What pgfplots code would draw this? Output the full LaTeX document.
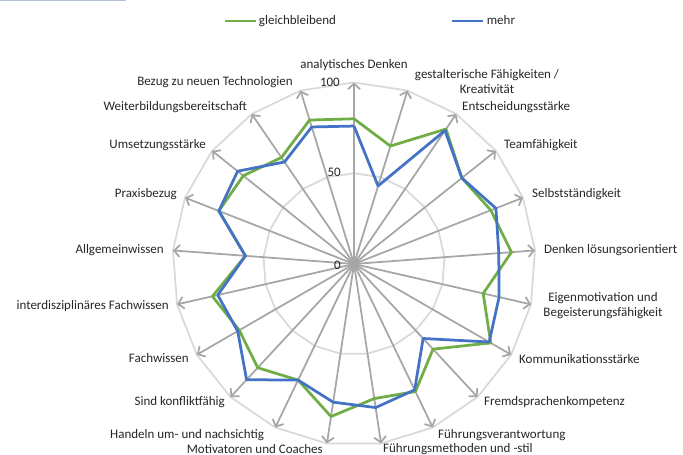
\documentclass[border=0pt]{standalone}
\usepackage{pgfplots}
\pgfplotsset{compat=1.18}
\usepackage{pgfplotstable}
\usepgfplotslibrary{polar}
\usetikzlibrary{arrows.meta}
\usepackage{fontspec}
\setmainfont{Carlito}
\definecolor{cgreen}{RGB}{112,173,71}
\definecolor{cblue}{RGB}{68,114,196}
\definecolor{cspoke}{RGB}{166,166,166}
\definecolor{cgrid}{RGB}{217,217,217}
\definecolor{ctop}{RGB}{180,192,212}
\definecolor{ctext}{RGB}{38,38,38}
\pgfplotstableread{
angle gleich mehr
90 80 76
72.857 68 45
55.714 90 89
38.571 76 76
21.429 81 84
4.286 87 80
-12.857 73 82
-30 87 86
-47.143 64 56
-64.286 78 77
-81.429 75 80
-98.571 85 77
-115.714 71 71
-132.857 78 87
-150 73 74
-167.143 80 77
-184.286 60 60
-201.429 80 80
-218.571 78 82
-235.714 71 68
-252.857 83 79
-270 80 76
}\radardata
\begin{document}
\fontsize{13}{15}\selectfont
\color{ctext}
\begin{tikzpicture}
\begin{axis}[
  hide axis,
  x=1.815pt, y=1.815pt,
  xmin=-195.04, xmax=181.27, ymin=-105.23, ymax=145.45,
  clip=false,
  legend columns=2,
  legend image code/.code={\draw[#1] (0pt,0pt) -- (31pt,0pt);},
  legend style={at={(rel axis cs:0.3265,0.9538)}, anchor=west, draw=none, fill=none,
    inner sep=0pt, nodes={inner sep=2pt, font=\fontsize{13}{15}\selectfont},
    /tikz/every even column/.append style={column sep=113pt}},
]
% grid polygons
\addplot[cgrid, line width=1.75pt, data cs=polar, forget plot] coordinates {
(90,100)(72.857,100)(55.714,100)(38.571,100)(21.429,100)(4.286,100)(-12.857,100)(-30,100)(-47.143,100)(-64.286,100)(-81.429,100)(-98.571,100)(-115.714,100)(-132.857,100)(-150,100)(-167.143,100)(-184.286,100)(-201.429,100)(-218.571,100)(-235.714,100)(-252.857,100)(-270,100)};
\addplot[cgrid, line width=1.75pt, data cs=polar, forget plot] coordinates {
(90,50)(72.857,50)(55.714,50)(38.571,50)(21.429,50)(4.286,50)(-12.857,50)(-30,50)(-47.143,50)(-64.286,50)(-81.429,50)(-98.571,50)(-115.714,50)(-132.857,50)(-150,50)(-167.143,50)(-184.286,50)(-201.429,50)(-218.571,50)(-235.714,50)(-252.857,50)(-270,50)};
% spokes
\pgfplotsinvokeforeach{90,72.857,55.714,38.571,21.429,4.286,-12.857,-30,-47.143,-64.286,-81.429,-98.571,-115.714,-132.857,-150,-167.143,-184.286,-201.429,-218.571,-235.714,-252.857}{
  \addplot[cspoke, line width=1.75pt, data cs=polar, forget plot, -{Straight Barb[length=5.5pt,width=12pt,line width=1.75pt]}] coordinates {(#1,0)(#1,100)};
}
\addplot[cgreen, line width=2.75pt, line join=round, data cs=polar] table[x=angle, y=gleich] {\radardata};
\addlegendentry{gleichbleibend}
\addplot[cblue, line width=2.75pt, line join=round, data cs=polar] table[x=angle, y=mehr] {\radardata};
\addlegendentry{mehr}
\coordinate (O) at (axis cs:0,0);
\coordinate (BL) at (rel axis cs:0,0);
\coordinate (TR) at (rel axis cs:1,1);
\coordinate (TL) at (rel axis cs:0,1);
\end{axis}
% value labels
\node[anchor=east, inner sep=0pt] at ([shift={(-14pt,182pt)}]O) {100};
\node[anchor=east, inner sep=0pt] at ([shift={(-13pt,92pt)}]O) {50};
\node[anchor=east, inner sep=0pt] at ([shift={(-13pt,-1pt)}]O) {0};
% category labels
\node[anchor=center, inner sep=0pt] at ([shift={(0pt,199pt)}]O) {analytisches Denken};
\node[anchor=center, inner sep=0pt, align=center] at ([shift={(133pt,182.5pt)}]O) {gestalterische Fähigkeiten /\\Kreativität};
\node[anchor=west, inner sep=0pt] at ([shift={(108pt,157pt)}]O) {Entscheidungsstärke};
\node[anchor=west, inner sep=0pt] at ([shift={(150pt,119pt)}]O) {Teamfähigkeit};
\node[anchor=west, inner sep=0pt] at ([shift={(178pt,70pt)}]O) {Selbstständigkeit};
\node[anchor=west, inner sep=0pt] at ([shift={(190pt,14pt)}]O) {Denken lösungsorientiert};
\node[anchor=center, inner sep=0pt, align=center] at ([shift={(249pt,-42pt)}]O) {Eigenmotivation und\\Begeisterungsfähigkeit};
\node[anchor=west, inner sep=0pt] at ([shift={(165pt,-95pt)}]O) {Kommunikationsstärke};
\node[anchor=west, inner sep=0pt] at ([shift={(130pt,-138pt)}]O) {Fremdsprachenkompetenz};
\node[anchor=west, inner sep=0pt] at ([shift={(84pt,-171pt)}]O) {Führungsverantwortung};
\node[anchor=west, inner sep=0pt] at ([shift={(29pt,-185pt)}]O) {Führungsmethoden und -stil};
\node[anchor=east, inner sep=0pt] at ([shift={(-31pt,-185pt)}]O) {Motivatoren und Coaches};
\node[anchor=west, inner sep=0pt] at ([shift={(-244pt,-171pt)}]O) {Handeln um- und nachsichtig};
\node[anchor=east, inner sep=0pt] at ([shift={(-129pt,-138pt)}]O) {Sind konfliktfähig};
\node[anchor=east, inner sep=0pt] at ([shift={(-165pt,-94pt)}]O) {Fachwissen};
\node[anchor=east, inner sep=0pt] at ([shift={(-185pt,-42pt)}]O) {interdisziplinäres Fachwissen};
\node[anchor=east, inner sep=0pt] at ([shift={(-190pt,14pt)}]O) {Allgemeinwissen};
\node[anchor=east, inner sep=0pt] at ([shift={(-177pt,70pt)}]O) {Praxisbezug};
\node[anchor=east, inner sep=0pt] at ([shift={(-148pt,119pt)}]O) {Umsetzungsstärke};
\node[anchor=east, inner sep=0pt] at ([shift={(-107pt,157pt)}]O) {Weiterbildungsbereitschaft};
\node[anchor=east, inner sep=0pt] at ([shift={(-61pt,182pt)}]O) {Bezug zu neuen Technologien};
\draw[ctop, line width=1.5pt] ([shift={(0pt,-0.75pt)}]TL) -- ++(126pt,0pt);
\pgfresetboundingbox
\path[use as bounding box] (BL) rectangle (TR);
\end{tikzpicture}
\end{document}
